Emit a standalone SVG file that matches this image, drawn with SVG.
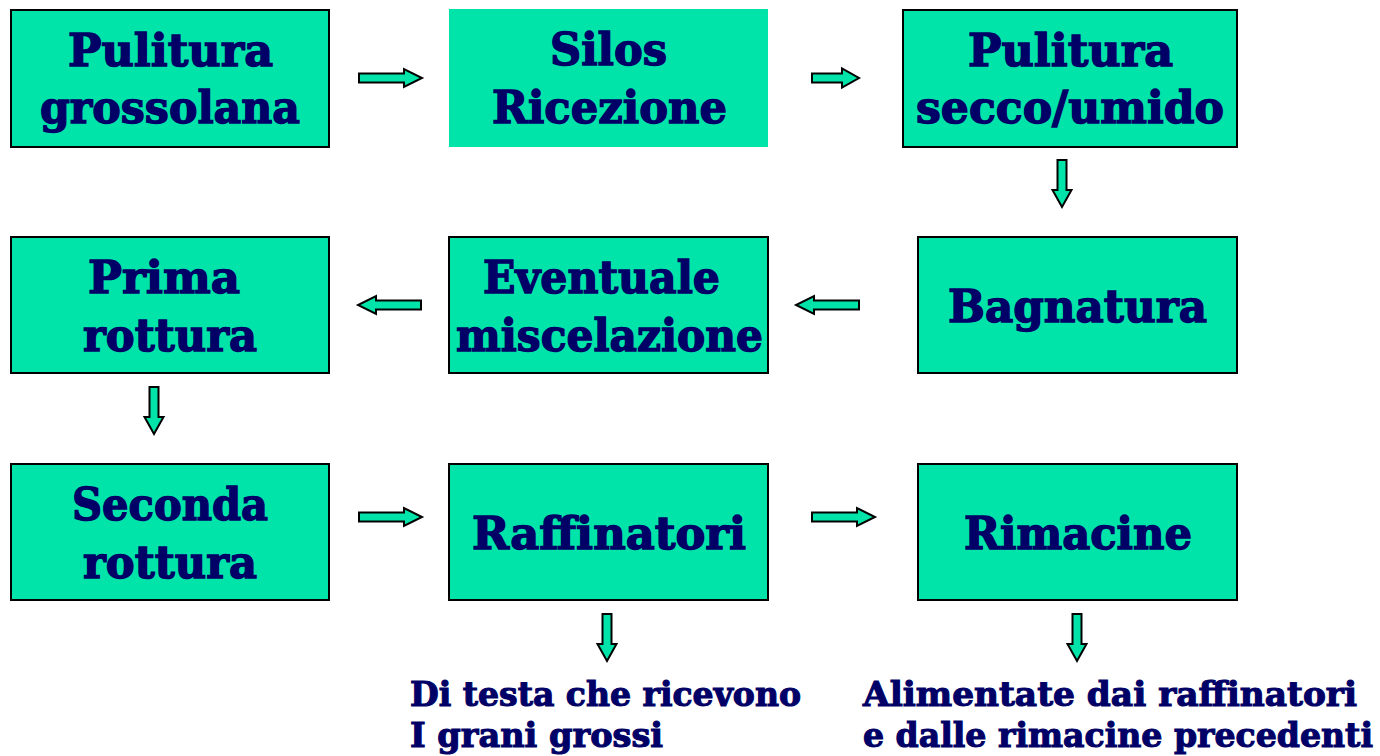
<svg xmlns="http://www.w3.org/2000/svg" width="1380" height="756" viewBox="0 0 1380 756">
<style>
.box{fill:#00E4AA;stroke:#000;stroke-width:2}
.nob{fill:#00E4AA}
.t{font-family:"DejaVu Serif","Liberation Serif",serif;font-weight:bold;font-size:44px;fill:#000066;stroke:#000066;stroke-width:1.4}
.b{font-family:"DejaVu Serif","Liberation Serif",serif;font-weight:bold;font-size:33px;fill:#000066;stroke:#000066;stroke-width:1.1}
.arr{fill:#00E4AA;stroke:#000;stroke-width:2;stroke-linejoin:miter}
</style>
<defs>
<path id="aL" d="M0,-4.5 H45 V-9 L63,0 L45,9 V4.5 H0 Z"/>
<path id="aS" d="M0,-4.5 H30 V-9.5 L47,0 L30,9.5 V4.5 H0 Z"/>
</defs>
<g id="n1"><rect class="box" x="11" y="10" width="318" height="137"/>
<text class="t" x="68" y="66" textLength="205" lengthAdjust="spacingAndGlyphs">Pulitura</text>
<text class="t" x="40" y="123" textLength="260" lengthAdjust="spacingAndGlyphs">grossolana</text></g>
<g id="n2"><rect class="nob" x="449" y="9" width="319" height="138"/>
<text class="t" x="550" y="65" textLength="117" lengthAdjust="spacingAndGlyphs">Silos</text>
<text class="t" x="492" y="123" textLength="235" lengthAdjust="spacingAndGlyphs">Ricezione</text></g>
<g id="n3"><rect class="box" x="903" y="10" width="334" height="137"/>
<text class="t" x="968" y="66" textLength="205" lengthAdjust="spacingAndGlyphs">Pulitura</text>
<text class="t" x="916" y="123" textLength="308" lengthAdjust="spacingAndGlyphs">secco/umido</text></g>
<g id="n4"><rect class="box" x="11" y="237" width="318" height="136"/>
<text class="t" x="88" y="293" textLength="152" lengthAdjust="spacingAndGlyphs">Prima</text>
<text class="t" x="83" y="351" textLength="174" lengthAdjust="spacingAndGlyphs">rottura</text></g>
<g id="n5"><rect class="box" x="449" y="237" width="319" height="136"/>
<text class="t" x="483" y="293" textLength="237" lengthAdjust="spacingAndGlyphs">Eventuale</text>
<text class="t" x="456" y="351" textLength="307" lengthAdjust="spacingAndGlyphs">miscelazione</text></g>
<g id="n6"><rect class="box" x="918" y="237" width="319" height="136"/>
<text class="t" x="948" y="322" textLength="259" lengthAdjust="spacingAndGlyphs">Bagnatura</text></g>
<g id="n7"><rect class="box" x="11" y="464" width="318" height="136"/>
<text class="t" x="72" y="520" textLength="196" lengthAdjust="spacingAndGlyphs">Seconda</text>
<text class="t" x="83" y="578" textLength="174" lengthAdjust="spacingAndGlyphs">rottura</text></g>
<g id="n8"><rect class="box" x="449" y="464" width="319" height="136"/>
<text class="t" x="472" y="549" textLength="274" lengthAdjust="spacingAndGlyphs">Raffinatori</text></g>
<g id="n9"><rect class="box" x="918" y="464" width="319" height="136"/>
<text class="t" x="964" y="549" textLength="228" lengthAdjust="spacingAndGlyphs">Rimacine</text></g>
<g id="n10">
<text class="b" x="410" y="706" textLength="391" lengthAdjust="spacingAndGlyphs">Di testa che ricevono</text>
<text class="b" x="410" y="747" textLength="253" lengthAdjust="spacingAndGlyphs">I grani grossi</text></g>
<g id="n11">
<text class="b" x="863" y="706" textLength="494" lengthAdjust="spacingAndGlyphs">Alimentate dai raffinatori</text>
<text class="b" x="863" y="747" textLength="510" lengthAdjust="spacingAndGlyphs">e dalle rimacine precedenti</text></g>
<g id="connectors">
<use href="#aL" class="arr" transform="translate(359,78)"/>
<use href="#aS" class="arr" transform="translate(812,78)"/>
<use href="#aS" class="arr" transform="translate(1062,160) rotate(90)"/>
<use href="#aL" class="arr" transform="translate(859,305) rotate(180)"/>
<use href="#aL" class="arr" transform="translate(421,305) rotate(180)"/>
<use href="#aS" class="arr" transform="translate(154,387) rotate(90)"/>
<use href="#aL" class="arr" transform="translate(359,517)"/>
<use href="#aL" class="arr" transform="translate(812,517)"/>
<use href="#aS" class="arr" transform="translate(607,614) rotate(90)"/>
<use href="#aS" class="arr" transform="translate(1077,614) rotate(90)"/>
</g>
</svg>
